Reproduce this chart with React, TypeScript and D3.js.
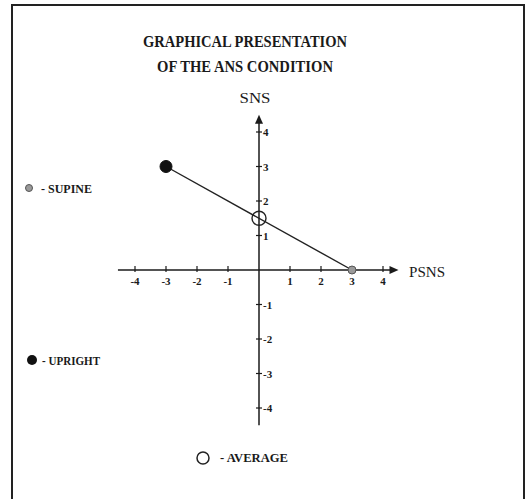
import React from "react";
import * as d3 from "d3";

const width = 527;
const height = 499;

// data
const conditions = ["UPRIGHT", "AVERAGE", "SUPINE"];
const psnsValues = [-3, 0, 3];
const snsValues = [3, 1.5, 0];
const tickValues = [-4, -3, -2, -1, 1, 2, 3, 4];

const titleLines = ["GRAPHICAL PRESENTATION", "OF THE ANS CONDITION"];

const serif = "'Liberation Serif', 'Times New Roman', serif";
const ink = "#1a1a1a";

const markerStyle: Record<string, { r: number; fill: string; stroke: string; sw: number }> = {
  UPRIGHT: { r: 6, fill: "#111", stroke: "#111", sw: 1 },
  AVERAGE: { r: 7, fill: "none", stroke: "#222", sw: 1.4 },
  SUPINE: { r: 4, fill: "#9a9a9a", stroke: "#555", sw: 1 },
};

const App = () => {
  // psns on x axis
  const xScale = d3.scaleLinear().domain([-4, 4]).range([135, 383]);
  // sns on y axis
  const yScale = d3.scaleLinear().domain([-4, 4]).range([408, 132]);

  const x0 = xScale(0);
  const y0 = yScale(0);

  const points = conditions.map((c, i) => ({ name: c, x: psnsValues[i], y: snsValues[i] }));
  const line = d3
    .line<{ x: number; y: number }>()
    .x((d) => xScale(d.x))
    .y((d) => yScale(d.y));
  const trend = [points[0], points[2]];

  const xLeft = xScale(-4.55);
  const xRight = xScale(4.5);
  const yTop = yScale(4.5);
  const yBottom = yScale(-4.5);

  return (
    <svg
      width={width}
      height={height}
      style={{ position: "absolute", left: 0, top: 0, background: "#fff" }}
    >
      {/* frame, runs off the bottom */}
      <path d={`M12,${height} V5 H524 V${height}`} fill="none" stroke="#222" strokeWidth={2} />

      {titleLines.map((t, i) => (
        <text
          key={t}
          x={245}
          y={47 + i * 25}
          textAnchor="middle"
          fontFamily={serif}
          fontWeight="bold"
          fontSize={16}
          textLength={i === 0 ? 204 : 176}
          lengthAdjust="spacingAndGlyphs"
          fill={ink}
        >
          {t}
        </text>
      ))}
      <text x={255} y={103} textAnchor="middle" fontFamily={serif} fontSize={15} textLength={31} lengthAdjust="spacingAndGlyphs" fill={ink}>
        SNS
      </text>
      <text x={409} y={277} fontFamily={serif} fontSize={15} textLength={36} lengthAdjust="spacingAndGlyphs" fill={ink}>
        PSNS
      </text>

      {/* axes */}
      <line x1={xLeft} x2={xRight - 6} y1={y0} y2={y0} stroke={ink} strokeWidth={1.5} />
      <path d={`M${xRight},${y0} l-9,-4 v8 z`} fill={ink} />
      <line x1={x0} x2={x0} y1={yTop + 6} y2={yBottom} stroke={ink} strokeWidth={1.5} />
      <path d={`M${x0},${yTop} l-4,9 h8 z`} fill={ink} />

      {tickValues.map((t) => (
        <g key={"x" + t}>
          <line x1={xScale(t)} x2={xScale(t)} y1={y0 - 4} y2={y0 + 2} stroke={ink} strokeWidth={1.2} />
          <text x={xScale(t)} y={y0 + 15} textAnchor="middle" fontFamily={serif} fontWeight="bold" fontSize={11} fill={ink}>
            {t}
          </text>
        </g>
      ))}
      {tickValues.map((t) => (
        <g key={"y" + t}>
          <line x1={x0 - 3} x2={x0 + 3} y1={yScale(t)} y2={yScale(t)} stroke={ink} strokeWidth={1.2} />
          <text x={x0 + 4} y={yScale(t) + 4} fontFamily={serif} fontWeight="bold" fontSize={11} fill={ink}>
            {t}
          </text>
        </g>
      ))}

      {/* trend line through the three conditions */}
      <path d={line(trend) || ""} fill="none" stroke="#222" strokeWidth={1.4} />

      {points.map((p) => {
        const s = markerStyle[p.name];
        return (
          <circle
            key={p.name}
            cx={xScale(p.x)}
            cy={yScale(p.y)}
            r={s.r}
            fill={s.fill === "none" ? "#fff" : s.fill}
            fillOpacity={s.fill === "none" ? 0 : 1}
            stroke={s.stroke}
            strokeWidth={s.sw}
          />
        );
      })}

      {/* legend */}
      <circle cx={29} cy={188} r={3.5} fill={markerStyle.SUPINE.fill} stroke={markerStyle.SUPINE.stroke} />
      <text x={41} y={193} fontFamily={serif} fontWeight="bold" fontSize={12} textLength={51} lengthAdjust="spacingAndGlyphs" fill={ink}>
        - SUPINE
      </text>
      <circle cx={32} cy={360} r={5} fill={markerStyle.UPRIGHT.fill} />
      <text x={42} y={365} fontFamily={serif} fontWeight="bold" fontSize={12} textLength={58} lengthAdjust="spacingAndGlyphs" fill={ink}>
        - UPRIGHT
      </text>
      <circle cx={203} cy={458} r={6} fill="none" stroke="#222" strokeWidth={1.5} />
      <text x={220} y={462} fontFamily={serif} fontWeight="bold" fontSize={12} textLength={68} lengthAdjust="spacingAndGlyphs" fill={ink}>
        - AVERAGE
      </text>
    </svg>
  );
};

export default App;
